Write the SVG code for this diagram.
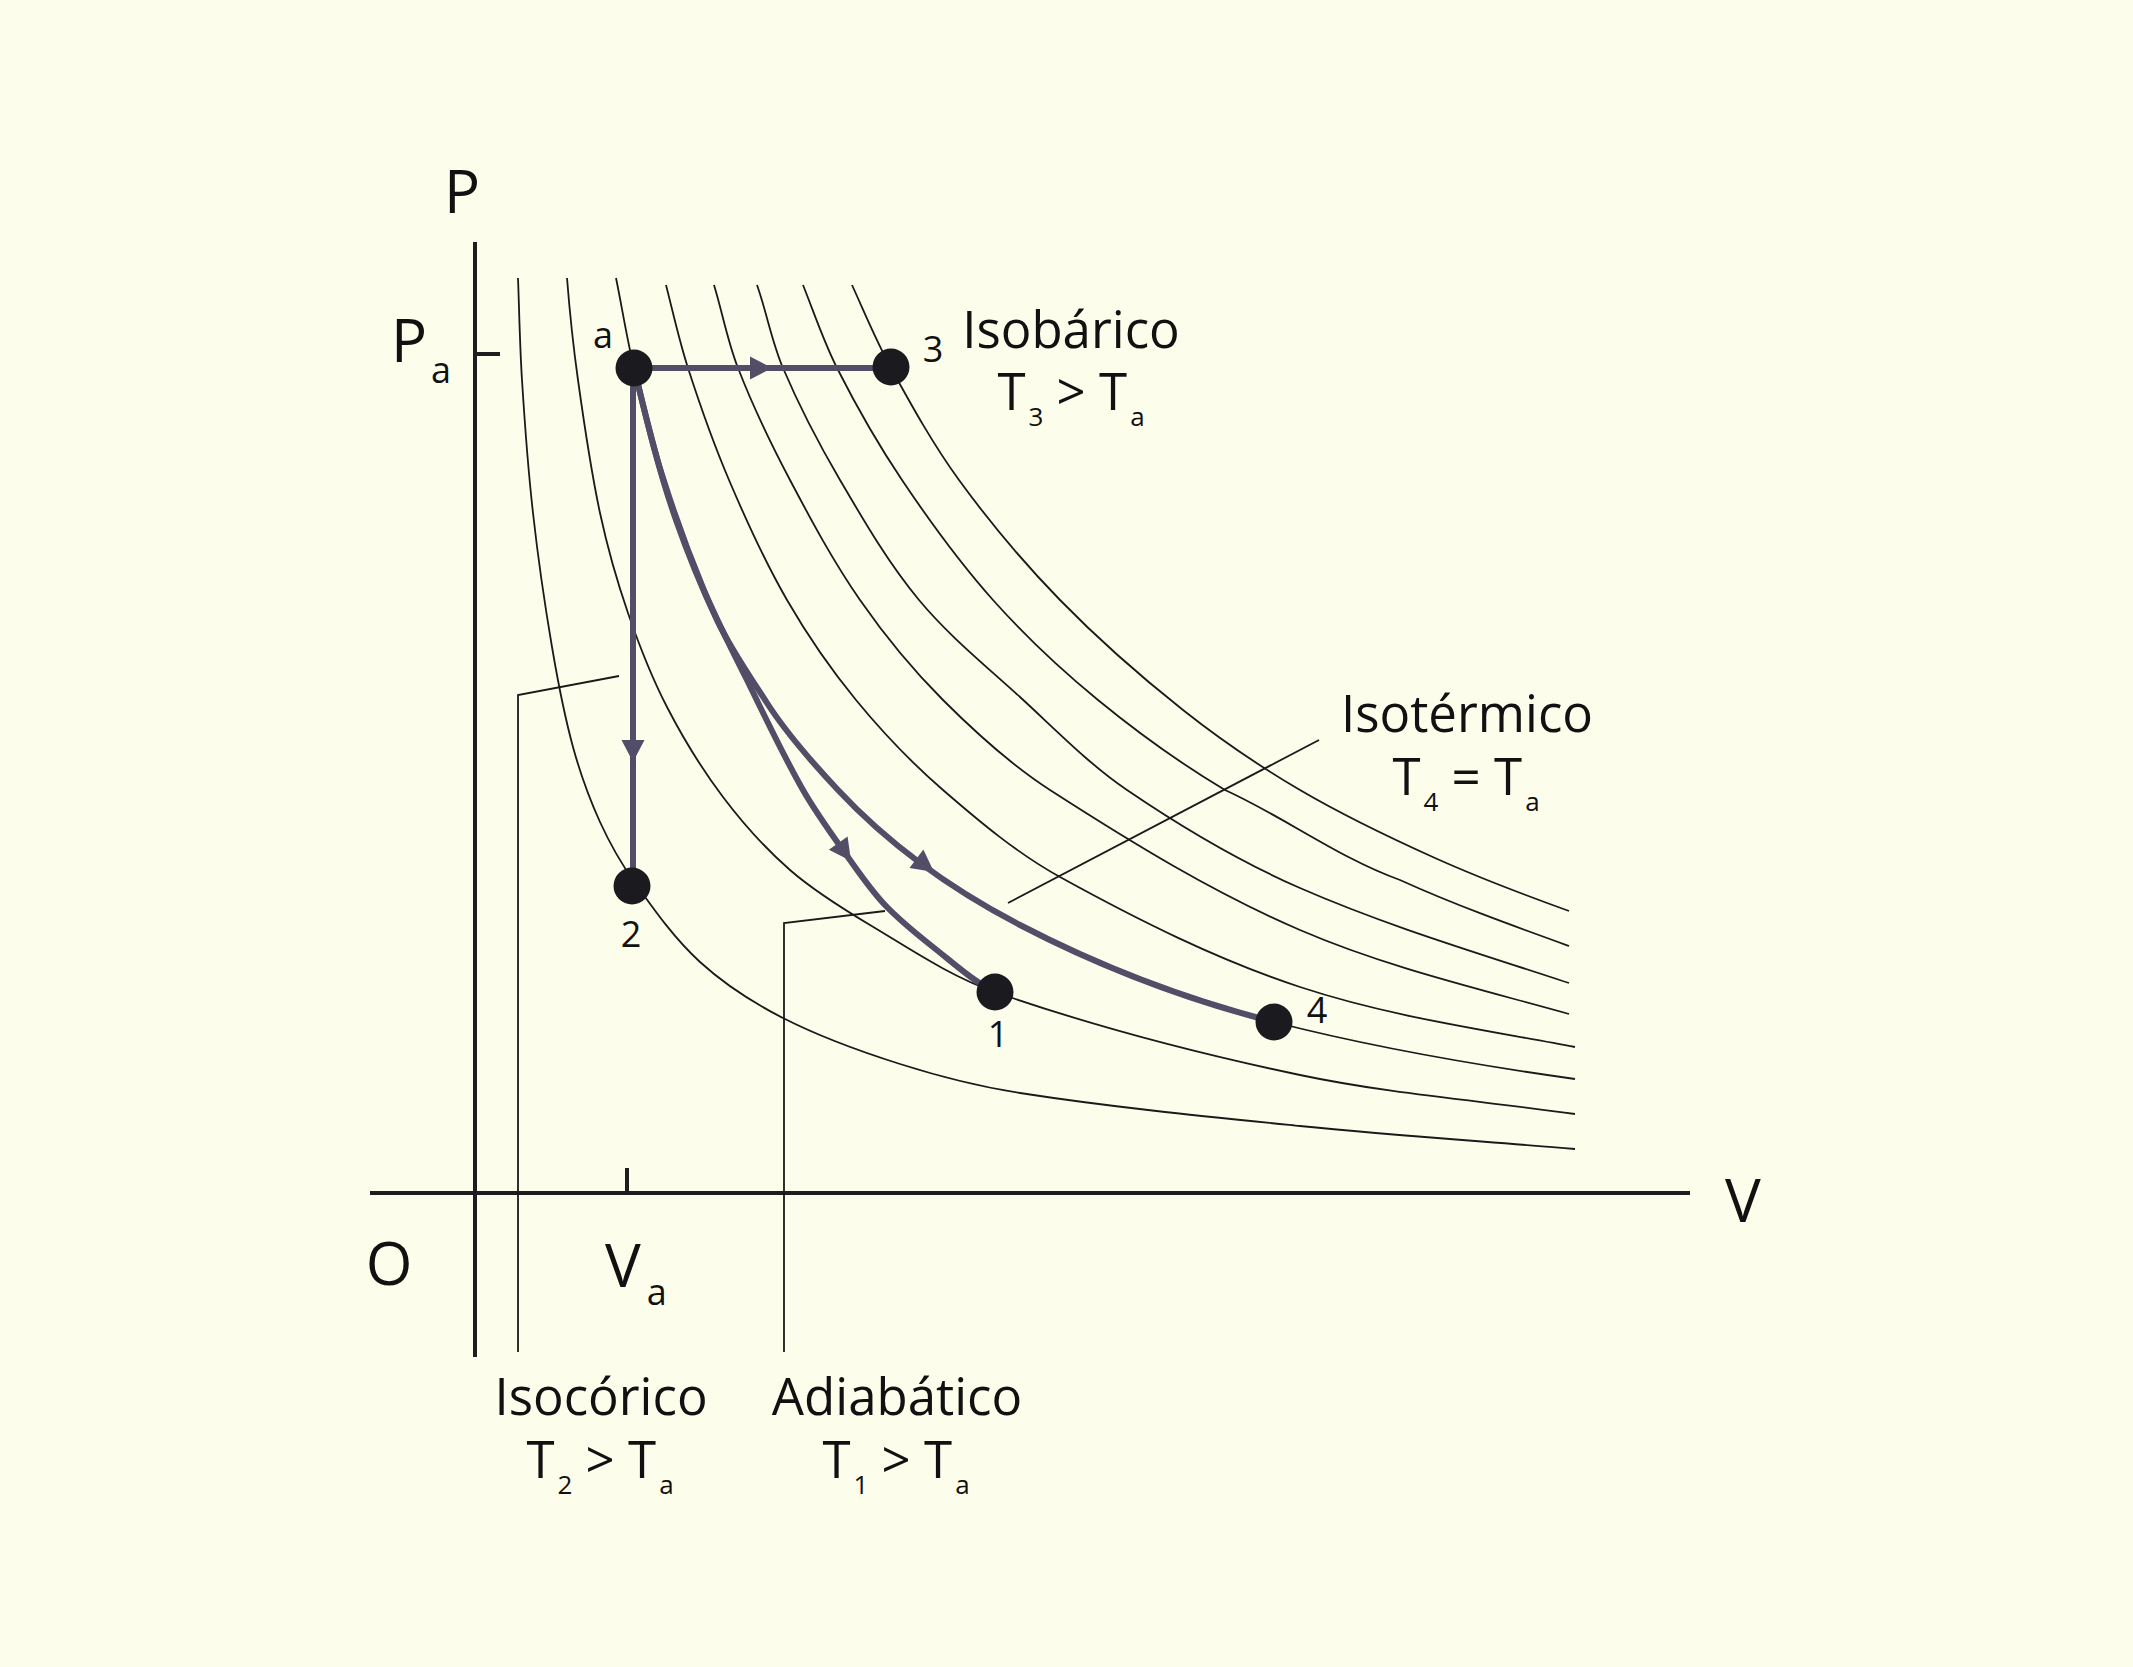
<svg xmlns="http://www.w3.org/2000/svg" width="2133" height="1667" viewBox="0 0 2133 1667">
<style>
.t{font-family:"Open Sans","Liberation Sans",sans-serif;fill:#111;}
.big{font-size:51px;}
.ax{font-size:60px;}
.pt{font-size:36px;}
.sub{font-size:26px;}
.iso{fill:none;stroke:#1a1a1a;stroke-width:1.8;}
.lead{fill:none;stroke:#1a1a1a;stroke-width:1.8;}
.axis{fill:none;stroke:#1e1e1e;stroke-width:4;}
.proc{fill:none;stroke:#524e68;stroke-width:6;}
.dot{fill:#1b1a1f;}
</style>
<defs>
<path id="ah" d="M0,0 L-22,-11.5 L-22,11.5 Z" fill="#524e68"/>
</defs>
<rect width="2133" height="1667" fill="#fdfdec"/>

<g id="isotherms">
<path class="iso" d="M518,278 C519.3,312 519.8,346 522,380 C524.8,424.4 528,468.8 533,513 C538,557.8 544.4,602.5 552,647 C557.7,680.6 564,714.1 573,747 C580,772.6 589,797.8 600,822 C609.7,843.3 621.4,863.9 635,883 C654.8,910.8 674.8,939 700,962 C724.7,984.5 753.3,1002.8 783,1018 C820.3,1037 860.1,1051.4 900,1064 C939.2,1076.4 979.3,1086.7 1020,1093 C1112.9,1107.4 1206.5,1116.6 1300,1126 C1391.5,1135.2 1483.3,1141.3 1575,1149"/>
<path class="iso" d="M567,278 C569.7,312.1 573.2,346.1 578,380 C584.2,424.5 590.6,469.1 600,513 C607.3,546.8 616.7,580.3 628,613 C639.1,645.1 651.4,676.9 667,707 C683.2,738.4 701.7,768.8 723,797 C742.9,823.4 765.1,848.3 790,870 C814.4,891.3 842.2,908.4 870,925 C910.6,949.2 950.4,976.4 995,992 C1094.5,1026.7 1196.9,1053.3 1300,1075 C1390.6,1094.1 1483.3,1101 1575,1114"/>
<path class="iso" d="M616,278 C622.2,308 626.7,338.3 634,368 C646.5,419 658.6,470.4 676,520 C687.9,554 701.6,587.4 717,620 C730.8,649.2 749.5,675.8 767,703 C787.3,734.5 812.4,762.7 838,790 C889.6,845.2 953,890.2 1020,925 C1100.4,966.8 1186.2,999.5 1274,1022 C1372.9,1047.4 1473.9,1064.8 1575,1079"/>
<path class="iso" d="M666,285 C673.1,312.7 679.2,340.8 688,368 C700.2,405.8 713.4,443.4 729,480 C746.4,520.9 764.8,561.5 787,600 C807.3,635.1 830.3,668.7 856,700 C882.5,732.3 911.5,762.7 943,790 C979.7,821.8 1017.4,853.5 1060,877 C1137.1,919.5 1216.4,959.4 1300,987 C1389.1,1016.4 1482.9,1029.5 1575,1047"/>
<path class="iso" d="M714,285 C722.4,312.5 727.5,341.2 738,368 C752.9,406.4 770.8,443.6 790,480 C811.6,521 833.6,562 860,600 C884.7,635.6 912.4,669.4 943,700 C976,733 1010.8,764.8 1050,790 C1130.3,841.7 1212.3,892.2 1300,930 C1386.2,967.2 1478.5,988.6 1569,1014"/>
<path class="iso" d="M757,285 C766.7,312.3 771.6,341.3 783,368 C799.4,406.6 818.8,443.8 840,480 C864.2,521.3 888.4,563.1 919,600 C948.8,635.9 985.5,665.5 1020,697 C1054.9,728.9 1087.9,763.4 1127,790 C1181.8,827.3 1239.3,861.5 1300,888 C1387.1,926.1 1478.7,953.2 1569,983"/>
<path class="iso" d="M803,285 C814.1,312.8 823.5,341.3 837,368 C856.5,406.5 877.9,444.2 902,480 C930,521.7 959.6,562.5 993,600 C1025.2,636.1 1060.6,669.4 1098,700 C1138.1,732.9 1180.4,763.4 1225,790 C1284.7,817.1 1338.3,857.8 1400,880 C1455.1,905 1512.1,925.5 1569,946"/>
<path class="iso" d="M852,285 C864.7,312.8 876.3,341.2 891,368 C912,406.3 933.3,444.7 959,480 C989.8,522.3 1023.5,562.6 1060,600 C1098.4,639.4 1139.9,675.9 1183,710 C1220,739.3 1259.3,766.1 1300,790 C1343.5,815.5 1389,837.3 1435,858 C1478.8,877.7 1523.8,894.7 1569,911"/>
</g>

<g id="axes">
<line class="axis" x1="475" y1="242" x2="475" y2="1357"/>
<line class="axis" x1="370" y1="1193" x2="1690" y2="1193"/>
<line class="axis" x1="475" y1="354" x2="500" y2="354"/>
<line class="axis" x1="627" y1="1168" x2="627" y2="1193"/>
</g>

<g id="leaders">
<polyline class="lead" points="619,676 518,695 518,1352"/>
<polyline class="lead" points="885,911 784,923 784,1352"/>
<line class="lead" x1="1008" y1="903" x2="1319" y2="740"/>
</g>

<g id="connectors">
<line class="proc" x1="634" y1="368" x2="891" y2="368"/>
<line class="proc" x1="633" y1="368" x2="633" y2="886"/>
<path class="proc" d="M634,368 C642.8,403.8 651,439.8 662,475 C674,513.2 687.7,551 703,588 C715.4,618 730.6,646.9 745,676 C763.9,714.2 781.9,753 803,790 C816.9,814.4 833.7,837.1 850,860 C861,875.5 871.9,891.2 885,905 C899.7,920.4 916.3,933.8 933,947 C953,962.8 972.2,980.6 995,992"/>
<path class="proc" d="M634,368 C646.5,419 658.6,470.4 676,520 C687.9,554 701.6,587.4 717,620 C730.8,649.2 749.5,675.8 767,703 C787.3,734.5 812.4,762.7 838,790 C889.6,845.2 953,890.2 1020,925 C1100.4,966.8 1186.2,999.5 1274,1022"/>
<use href="#ah" transform="translate(772,368)"/>
<use href="#ah" transform="translate(633,762) rotate(90)"/>
<use href="#ah" transform="translate(851,861) rotate(54.5)"/>
<use href="#ah" transform="translate(934,872) rotate(37)"/>
</g>

<g id="point-a"><circle class="dot" cx="634" cy="368" r="18.5"/><text class="t pt" x="603" y="348" text-anchor="middle">a</text></g>
<g id="point-3"><circle class="dot" cx="891" cy="367" r="18.5"/><text class="t pt" x="933" y="362" text-anchor="middle">3</text></g>
<g id="point-2"><circle class="dot" cx="632" cy="886" r="18.5"/><text class="t pt" x="631" y="947" text-anchor="middle">2</text></g>
<g id="point-1"><circle class="dot" cx="995" cy="992" r="18.5"/><text class="t pt" x="998" y="1047" text-anchor="middle">1</text></g>
<g id="point-4"><circle class="dot" cx="1274" cy="1022" r="18.5"/><text class="t pt" x="1317" y="1023" text-anchor="middle">4</text></g>

<g id="axis-labels">
<text class="t ax" x="462" y="213" text-anchor="middle">P</text>
<text class="t ax" x="1743" y="1222" text-anchor="middle">V</text>
<text class="t ax" x="389" y="1285" text-anchor="middle">O</text>
<text class="t ax" x="391" y="362">P<tspan dx="4" dy="21" font-size="36">a</tspan></text>
<text class="t ax" x="605" y="1287">V<tspan dx="6" dy="18" font-size="36">a</tspan></text>
</g>

<g id="label-isobarico">
<text class="t big" x="1071" y="348" text-anchor="middle">Isobárico</text>
<text class="t big" x="1071" y="410" text-anchor="middle">T<tspan class="sub" dx="3" dy="16">3</tspan><tspan dy="-16"> &gt; T</tspan><tspan class="sub" dx="3" dy="16">a</tspan></text>
</g>
<g id="label-isotermico">
<text class="t big" x="1467" y="732" text-anchor="middle">Isotérmico</text>
<text class="t big" x="1466" y="795" text-anchor="middle">T<tspan class="sub" dx="3" dy="16">4</tspan><tspan dy="-16"> = T</tspan><tspan class="sub" dx="3" dy="16">a</tspan></text>
</g>
<g id="label-isocorico">
<text class="t big" x="601" y="1415" text-anchor="middle">Isocórico</text>
<text class="t big" x="600" y="1478" text-anchor="middle">T<tspan class="sub" dx="3" dy="16">2</tspan><tspan dy="-16"> &gt; T</tspan><tspan class="sub" dx="3" dy="16">a</tspan></text>
</g>
<g id="label-adiabatico">
<text class="t big" x="897" y="1415" text-anchor="middle">Adiabático</text>
<text class="t big" x="896" y="1478" text-anchor="middle">T<tspan class="sub" dx="3" dy="16">1</tspan><tspan dy="-16"> &gt; T</tspan><tspan class="sub" dx="3" dy="16">a</tspan></text>
</g>
</svg>
